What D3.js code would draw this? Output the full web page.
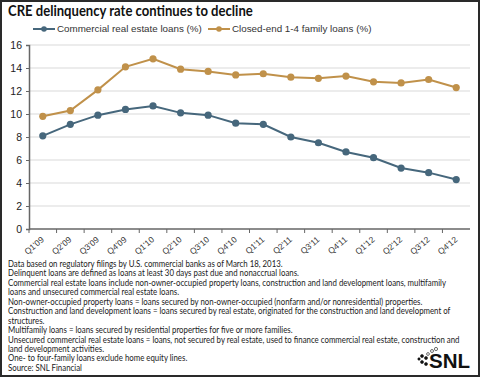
<!DOCTYPE html>
<html>
<head>
<meta charset="utf-8">
<script src="https://cdn.jsdelivr.net/npm/d3@7"></script>
<style>
  body { margin: 0; background: #fff; }
  svg { display: block; }
</style>
</head>
<body>
<div id="chart-area"></div>
<script>
// chart data
let quarters = ["Q1'09", "Q2'09", "Q3'09", "Q4'09", "Q1'10", "Q2'10", "Q3'10", "Q4'10",
    "Q1'11", "Q2'11", "Q3'11", "Q4'11", "Q1'12", "Q2'12", "Q3'12", "Q4'12"];
let commercial = [8.1, 9.1, 9.9, 10.4, 10.7, 10.1, 9.9, 9.2, 9.1, 8.0, 7.5, 6.7, 6.2, 5.3, 4.9, 4.3];
let closedEnd = [9.8, 10.3, 12.1, 14.1, 14.8, 13.9, 13.7, 13.4, 13.5, 13.2, 13.1, 13.3, 12.8, 12.7, 13.0, 12.3];
let yTicks = [0, 2, 4, 6, 8, 10, 12, 14, 16];
let seriesNames = ["Commercial real estate loans (%)", "Closed-end 1-4 family loans (%)"];
let title = "CRE delinquency rate continues to decline";
let notes = [
    "Data based on regulatory filings by U.S. commercial banks as of March 18, 2013.",
    "Delinquent loans are defined as loans at least 30 days past due and nonaccrual loans.",
    "Commercial real estate loans include non-owner-occupied property loans, construction and land development loans, multifamily",
    "loans and unsecured commercial real estate loans.",
    "Non-owner-occupied property loans = loans secured by non-owner-occupied (nonfarm and/or nonresidential) properties.",
    "Construction and land development loans = loans secured by real estate, originated for the construction and land development of",
    "structures.",
    "Multifamily loans = loans secured by residential properties for five or more families.",
    "Unsecured commercial real estate loans = loans, not secured by real estate, used to finance commercial real estate, construction and",
    "land development activities.",
    "One- to four-family loans exclude home equity lines.",
    "Source: SNL Financial"
];

let W = 480, H = 377;
let colors = ["#46677c", "#c0914a"];

let svg = d3.select("#chart-area").append("svg")
    .attr("width", W)
    .attr("height", H);

// frame
svg.append("rect")
    .attr("x", 1).attr("y", 1)
    .attr("width", W - 2).attr("height", H - 2)
    .attr("fill", "#fff")
    .attr("stroke", "#2a2a2a")
    .attr("stroke-width", 2);

// squeeze a text group horizontally so it fits a width (the original uses a narrow font)
function squeeze(g, x0, width) {
    let w = 0;
    g.selectAll("text").each(function () { w = Math.max(w, this.getComputedTextLength()); });
    let s = Math.min(1, width / w);
    g.attr("transform", "translate(" + x0 + ",0) scale(" + s + ",1)");
}

let titleG = svg.append("g");
titleG.append("text")
    .attr("x", 0).attr("y", 16)
    .attr("font-family", "Lato, sans-serif")
    .attr("font-weight", "bold")
    .attr("font-size", 14.5)
    .attr("fill", "#111")
    .text(title);
squeeze(titleG, 8, 245);

// Scales
let x = d3.scaleBand()
    .domain(quarters)
    .range([29, 470]);

let y = d3.scaleLinear()
    .domain([0, 16])
    .range([229, 45]);

// grid
svg.append("g")
    .selectAll("line")
    .data(yTicks.filter(d => d > 0))
    .enter().append("line")
    .attr("x1", 30).attr("x2", 470)
    .attr("y1", d => y(d)).attr("y2", d => y(d))
    .attr("stroke", "#d9d9d9")
    .attr("stroke-width", 1);

let yAxis = d3.axisLeft(y).tickValues(yTicks).tickSize(3).tickPadding(4);
let yg = svg.append("g")
    .attr("transform", "translate(29,0)")
    .call(yAxis);
yg.select(".domain").attr("stroke", "#666").attr("stroke-width", 1.5);
yg.selectAll(".tick line").attr("stroke", "#666");
yg.selectAll("text")
    .attr("font-family", "Liberation Sans, Arial, sans-serif")
    .attr("font-size", 10.5)
    .attr("fill", "#222");

// x axis with ticks on band edges
let xg = svg.append("g")
    .attr("transform", "translate(0,229)");
xg.append("line")
    .attr("x1", 29).attr("x2", 470)
    .attr("stroke", "#666").attr("stroke-width", 1.5);
xg.selectAll(".xt")
    .data(quarters)
    .enter().append("line")
    .attr("class", "xt")
    .attr("x1", d => x(d)).attr("x2", d => x(d))
    .attr("y1", 0).attr("y2", 4)
    .attr("stroke", "#666");
xg.selectAll(".xl")
    .data(quarters)
    .enter().append("text")
    .attr("class", "xl")
    .attr("transform", d => "translate(" + (x(d) + x.bandwidth() / 2 - 2) + ",7) rotate(-40)")
    .attr("text-anchor", "end")
    .attr("dy", "0.7em")
    .attr("font-family", "Liberation Sans, Arial, sans-serif")
    .attr("font-size", 8.5)
    .attr("fill", "#333")
    .text(d => d);

// lines
let line = d3.line()
    .x((d, i) => x(quarters[i]) + x.bandwidth() / 2)
    .y(d => y(d));

[commercial, closedEnd].forEach((s, k) => {
    svg.append("path")
        .datum(s)
        .attr("fill", "none")
        .attr("stroke", colors[k])
        .attr("stroke-width", 2)
        .attr("d", line);
    svg.append("g")
        .selectAll("circle")
        .data(s)
        .enter().append("circle")
        .attr("cx", (d, i) => x(quarters[i]) + x.bandwidth() / 2)
        .attr("cy", d => y(d))
        .attr("r", 3.6)
        .attr("fill", colors[k]);
});

// legend
let legX = [33, 208];
seriesNames.forEach((name, k) => {
    let g = svg.append("g").attr("transform", "translate(" + legX[k] + ",29)");
    g.append("line").attr("x1", 0).attr("x2", 22)
        .attr("stroke", colors[k]).attr("stroke-width", 2);
    g.append("circle").attr("cx", 11).attr("r", 2.8).attr("fill", colors[k]);
    g.append("text")
        .attr("x", 24).attr("dy", "0.35em")
        .attr("font-family", "Liberation Sans, Arial, sans-serif")
        .attr("font-size", 9.8)
        .attr("fill", "#333")
        .text(name);
});

// footnotes
let noteG = svg.append("g");
noteG.selectAll("text")
    .data(notes)
    .enter().append("text")
    .attr("x", 0)
    .attr("y", (d, i) => 267 + i * 9.45)
    .attr("font-family", "Lato, sans-serif")
    .attr("font-size", 8.8)
    .attr("fill", "#1a1a1a")
    .text(d => d);
squeeze(noteG, 8, 452);

// SNL logo
let logo = svg.append("g").attr("transform", "translate(429,368)");
let snl = logo.append("text")
    .attr("x", 0).attr("y", 0)
    .attr("font-family", "Liberation Sans, Arial, sans-serif")
    .attr("font-weight", "bold")
    .attr("font-size", 21)
    .attr("fill", "#111")
    .attr("textLength", 41)
    .attr("lengthAdjust", "spacingAndGlyphs")
    .text("SNL");
let dots = [[-7, -12, 1.5, 1], [-3, -10, 1.5, 1], [-7, -6, 1.5, 1], [-3, -4, 1.5, 1], [-10, -9, 1.2, 1],
    [-1, -14, 1.4, 0], [3, -17, 1.5, 0], [7, -19, 1.6, 0]];
logo.selectAll("circle")
    .data(dots)
    .enter().append("circle")
    .attr("cx", d => d[0]).attr("cy", d => d[1]).attr("r", d => d[2])
    .attr("fill", d => d[3] ? "#111" : "none")
    .attr("stroke", "#111").attr("stroke-width", 0.6);
</script>
</body>
</html>
